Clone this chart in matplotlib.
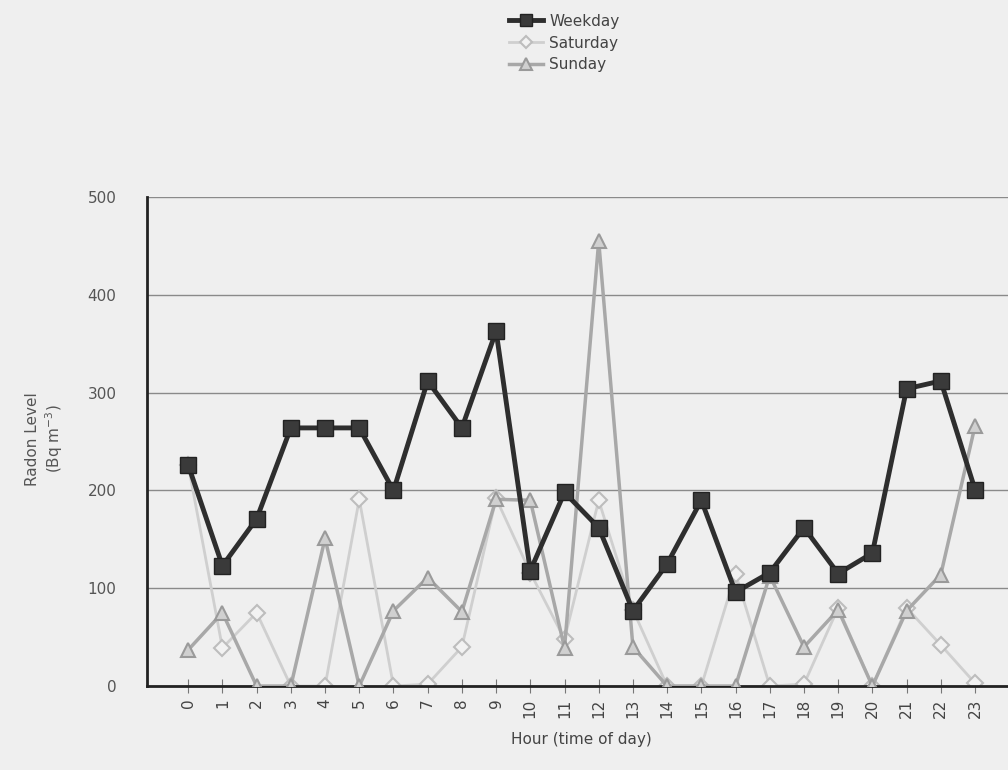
import matplotlib.pyplot as plt
import numpy as np

# Radon level by hour of day (Bq m-3)
hours = list(range(24))
weekday = [226, 123, 171, 264, 264, 264, 200, 312, 264, 363, 118, 198,
           162, 77, 125, 190, 96, 116, 162, 115, 136, 304, 312, 201]
saturday = [226, 39, 75, 0, 0, 191, 0, 2, 40, 192, 116, 48,
            190, 78, 0, 0, 115, 0, 2, 80, 0, 80, 42, 3]
sunday = [37, 75, 0, 0, 151, 0, 77, 111, 76, 191, 190, 39,
          455, 40, 0, 0, 0, 113, 40, 78, 0, 77, 114, 266]

bg = '#efefef'
fig = plt.figure(figsize=(10.08, 7.7), dpi=100, facecolor=bg)
ax = fig.add_axes([0.146, 0.109, 0.862, 0.635], facecolor=bg)

ax.plot(hours, saturday, color='#cfcfcf', lw=2, marker='D', ms=8,
        mfc='#f2f2f2', mec='#bdbdbd', mew=1.5, label='Saturday', zorder=2)
ax.plot(hours, sunday, color='#a8a8a8', lw=2.5, marker='^', ms=10,
        mfc='#d0d0d0', mec='#9a9a9a', mew=1.5, label='Sunday', zorder=3)
ax.plot(hours, weekday, color='#2e2e2e', lw=3.5, marker='s', ms=11,
        mfc='#3a3a3a', mec='#222222', label='Weekday', zorder=4)

ax.set_xlim(-1.2, 24.2)
ax.set_ylim(0, 500)
ax.set_yticks(range(0, 501, 100))
ax.set_xticks(hours)
ax.set_xticklabels([str(h) for h in hours], rotation=90)
ax.yaxis.grid(True, color='#8a8a8a', lw=1)
ax.set_axisbelow(True)

for s in ['top', 'right']:
    ax.spines[s].set_visible(False)
for s in ['left', 'bottom']:
    ax.spines[s].set_color('#222222')
    ax.spines[s].set_linewidth(2)

ax.tick_params(axis='x', direction='inout', length=10, colors='#777777',
               labelcolor='#444444', labelsize=11, pad=4)
ax.tick_params(axis='y', length=0, labelcolor='#555555', labelsize=11, pad=22)

ax.set_xlabel('Hour (time of day)', fontsize=11, color='#444444', labelpad=10)
fig.text(0.045, 0.43, 'Radon Level\n(Bq m$^{-3}$)', rotation=90, ha='center',
         va='center', fontsize=11, color='#555555', multialignment='center')

handles, labels = ax.get_legend_handles_labels()
order = [2, 0, 1]
fig.legend([handles[i] for i in order], [labels[i] for i in order],
           loc='upper center', bbox_to_anchor=(0.56, 1.0), frameon=False,
           fontsize=11, labelcolor='#444444', handlelength=2.2,
           handletextpad=0.4, labelspacing=0.45, markerscale=0.8)

fig.savefig('out.png', dpi=100, facecolor=bg)
